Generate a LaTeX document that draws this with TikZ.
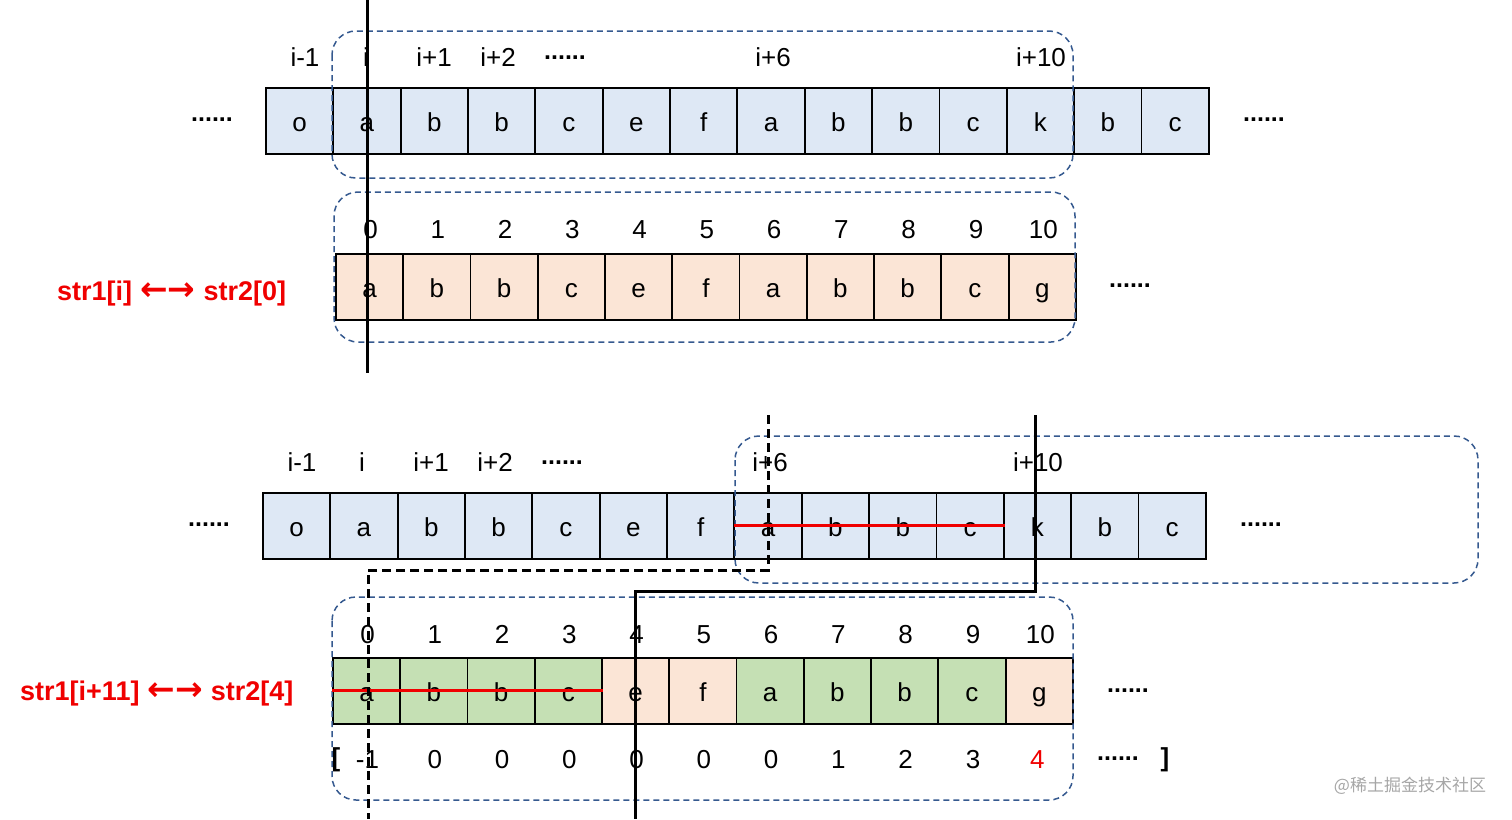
\documentclass[tikz,border=0pt]{standalone}
\usepackage{fontspec}
\setmainfont{Liberation Sans}
\newfontfamily\cjkfont{Noto Sans CJK SC}
\newfontfamily\arrowfont{DejaVu Sans}
\usetikzlibrary{calc}
\definecolor{cblue}{HTML}{DEE8F5}
\definecolor{cpeach}{HTML}{FBE5D6}
\definecolor{cgreen}{HTML}{C5E0B4}
\definecolor{dashblue}{HTML}{35598F}
\definecolor{cred}{HTML}{F00000}
\definecolor{wmgray}{HTML}{A6A6A6}
\begin{document}
\begin{tikzpicture}[x=1pt,y=-1pt,
  cell/.style={draw=black,line width=1.8pt,minimum width=67.3pt,minimum height=66pt,inner sep=0pt,anchor=north west},
  txt/.style={font=\fontsize{26}{26}\selectfont,inner sep=0pt,anchor=base},
  dots/.style={font=\fontsize{25}{25}\selectfont\bfseries,inner sep=0pt,anchor=base},
  grp/.style={draw=dashblue,line width=1.5pt,dash pattern=on 6pt off 4pt,rounded corners=24pt},
  redlab/.style={font=\fontsize{27}{27}\selectfont\bfseries,text=cred,inner sep=0pt,anchor=base west},
  strike/.style={draw=cred,line width=3pt},
  cut/.style={draw=black,line width=3pt},
  cutd/.style={draw=black,line width=3pt,dash pattern=on 9pt off 5pt}]
\useasboundingbox (0,0) rectangle (1512,819);

% ---------- top section: str1 row ----------
\foreach \c [count=\k] in {o,a,b,b,c,e,f,a,b,b,c,k,b,c} {
  \node[cell,fill=cblue] (A\k) at ({265+(\k-1)*67.357},87) {};
  \node[txt] (Al\k) at ($(A\k.center)+(0,10.5)$) {\c};
}
\node[txt] (Ai1) at (305,66) {i-1};
\node[txt] (Ai2) at (366,66) {i};
\node[txt] (Ai3) at (434,66) {i+1};
\node[txt] (Ai4) at (498,66) {i+2};
\node[dots] (Ad1) at (565,59) {......};
\node[txt] (Ai8) at (773,66) {i+6};
\node[txt] (Ai12) at (1041,66) {i+10};
\node[dots] (Ad2) at (212,121) {......};
\node[dots] (Ad3) at (1264,121) {......};

% ---------- top section: str2 row ----------
\foreach \c [count=\k] in {a,b,b,c,e,f,a,b,b,c,g} {
  \node[cell,fill=cpeach] (B\k) at ({335+(\k-1)*67.27},253) {};
  \node[txt] (Bl\k) at ($(B\k.center)+(0,10.5)$) {\c};
  \pgfmathtruncatemacro{\idx}{\k-1}
  \node[txt] (Bi\k) at ($(B\k.center)+(1,-48)$) {\idx};
}
\node[dots] (Bd) at (1130,287) {......};
\node[redlab] (R1) at (57,300) {str1[i]\hspace{8pt}{\arrowfont\fontsize{33}{33}\selectfont ←→}\hspace{8pt}str2[0]};

\draw[grp] (332,31) rectangle (1073,178);
\draw[grp] (334,192) rectangle (1075,342);

\coordinate (v1t) at (367,0);
\coordinate (v1b) at (367,373);
\draw[cut] (v1t) -- (v1b);

% ---------- bottom section: str1 row ----------
\foreach \c [count=\k] in {o,a,b,b,c,e,f,a,b,b,c,k,b,c} {
  \node[cell,fill=cblue] (C\k) at ({262+(\k-1)*67.357},492) {};
  \node[txt] (Cl\k) at ($(C\k.center)+(0,10.5)$) {\c};
}
\node[txt] (Ci1) at (302,471) {i-1};
\node[txt] (Ci2) at (362,471) {i};
\node[txt] (Ci3) at (431,471) {i+1};
\node[txt] (Ci4) at (495,471) {i+2};
\node[dots] (Cd1) at (562,464) {......};
\node[txt] (Ci8) at (770,471) {i+6};
\node[txt] (Ci12) at (1038,471) {i+10};
\node[dots] (Cd2) at (209,526) {......};
\node[dots] (Cd3) at (1261,526) {......};

% ---------- bottom section: str2 row ----------
\foreach \c/\f [count=\k] in {a/cgreen,b/cgreen,b/cgreen,c/cgreen,e/cpeach,f/cpeach,a/cgreen,b/cgreen,b/cgreen,c/cgreen,g/cpeach} {
  \node[cell,fill=\f] (D\k) at ({332+(\k-1)*67.27},657) {};
  \node[txt] (Dl\k) at ($(D\k.center)+(0,10.5)$) {\c};
  \pgfmathtruncatemacro{\idx}{\k-1}
  \node[txt] (Di\k) at ($(D\k.center)+(1,-47)$) {\idx};
}
\foreach \v [count=\k] in {-1,0,0,0,0,0,0,1,2,3} {
  \node[txt] (Dv\k) at ($(D\k.center)+(1,77.5)$) {\v};
}
\node[txt,text=cred] (Dv11) at ($(D11.center)+(-2,77.5)$) {4};
\node[dots] (Dd1) at (1128,692) {......};
\node[dots] (Dd2) at (1118,760) {......};
\node[txt,font=\fontsize{26}{26}\selectfont\bfseries] (Dbl) at (336,766) {[};
\node[txt,font=\fontsize{26}{26}\selectfont\bfseries] (Dbr) at (1165,766) {]};
\node[redlab] (R2) at (20,700) {str1[i+11]\hspace{8pt}{\arrowfont\fontsize{33}{33}\selectfont ←→}\hspace{8pt}str2[4]};

\draw[grp] (735,436) rectangle (1478,583);
\draw[grp] (332,597) rectangle (1073,800);

% strike-through lines
\draw[strike] (C8.west) -- (C11.east);
\draw[strike] (D1.west) -- (D4.east);

% cut lines
\coordinate (d1) at (768,415);
\coordinate (d2) at (768,570);
\coordinate (d3) at (368,570);
\coordinate (d4) at (368,819);
\draw[cutd] (d1) -- (d2) -- (d3) -- (d4);
\coordinate (s1) at (1035,415);
\coordinate (s2) at (1035,591);
\coordinate (s3) at (635,591);
\coordinate (s4) at (635,819);
\draw[cut] (s1) -- (s2) -- (s3) -- (s4);

% watermark
\node[inner sep=0pt,text=wmgray,font=\cjkfont\fontsize{17}{17}\selectfont] (wm) at (1410,786) {@稀土掘金技术社区};
\end{tikzpicture}
\end{document}
